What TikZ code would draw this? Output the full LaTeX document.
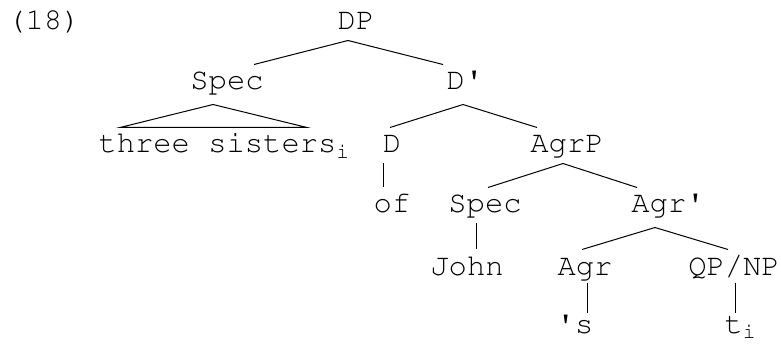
\documentclass[tikz,border=0pt]{standalone}
\usepackage[T1]{fontenc}
\usetikzlibrary{positioning}

\begin{document}
\begin{tikzpicture}[x=1pt,y=1pt,line width=1pt,
    cat/.style={anchor=base,inner xsep=0pt,inner ysep=10pt,text height=15pt,text depth=0pt,
      font=\fontfamily{pcr}\fontsize{30.5}{36}\selectfont}]
\useasboundingbox (0,0) rectangle (781,-347);

\node[cat]   (num)   at (44,-30)   {(18)};
\node[cat]   (DP)    at (356,-30)  {DP};
\node[cat]   (specA) at (227,-90)  {Spec};
\node[cat]   (Dbar)  at (465,-90)  {D\textquotesingle};
\node[cat,anchor=base west] (sis) at (98,-153) {three sisters\textsubscript{i}};
\node[cat]   (D)     at (392,-153) {D};
\node[cat]   (AgrP)  at (567,-153) {AgrP};
\node[cat]   (of)    at (392,-213) {of};
\node[cat]   (specB) at (485,-213) {Spec};
\node[cat]   (Agrbar) at (668,-213) {Agr\textquotesingle};
\node[cat]   (John)  at (467,-275) {John};
\node[cat]   (Agr)   at (585,-275) {Agr};
\node[cat]   (QP)    at (734,-275) {QP/NP};
\node[cat]   (s)     at (575,-333) {\textquotesingle s};
\node[cat,anchor=base west] (t) at (724,-333) {t\textsubscript{i}};

% branches
\draw ([xshift=-8pt]DP.south) -- ([xshift=27pt]specA.north);
\draw ([xshift=-8pt]DP.south) -- ([xshift=-22pt]Dbar.north);
\draw ([xshift=22pt]sis.north west) -- ([xshift=-14pt,yshift=-4pt]specA.south)
      -- ([xshift=209pt]sis.north west) -- cycle;
\draw ([xshift=-2pt,yshift=-4pt]Dbar.south) -- ([xshift=-2pt]D.north);
\draw ([xshift=-2pt,yshift=-4pt]Dbar.south) -- ([xshift=-30pt]AgrP.north);
\draw ([xshift=-4pt]AgrP.south) -- ([xshift=3pt]specB.north);
\draw ([xshift=-4pt]AgrP.south) -- ([xshift=-31pt]Agrbar.north);
\draw ([xshift=-13pt,yshift=-4pt]Agrbar.south) -- ([xshift=-3pt]Agr.north);
\draw ([xshift=-13pt,yshift=-4pt]Agrbar.south) -- ([xshift=-6pt]QP.north);

% unary lines
\draw ([xshift=-9pt]D.south) -- ([xshift=-9pt]D.south |- of.north);
\draw ([xshift=-9pt]specB.south) -- ([xshift=-9pt]specB.south |- John.north);
\draw ([xshift=2pt,yshift=3pt]Agr.south) -- ([xshift=2pt,yshift=-5pt]Agr.south |- s.north);
\draw ([xshift=1pt,yshift=3pt]QP.south) -- ([xshift=1pt,yshift=-5pt]QP.south |- t.north);
\end{tikzpicture}
\end{document}
